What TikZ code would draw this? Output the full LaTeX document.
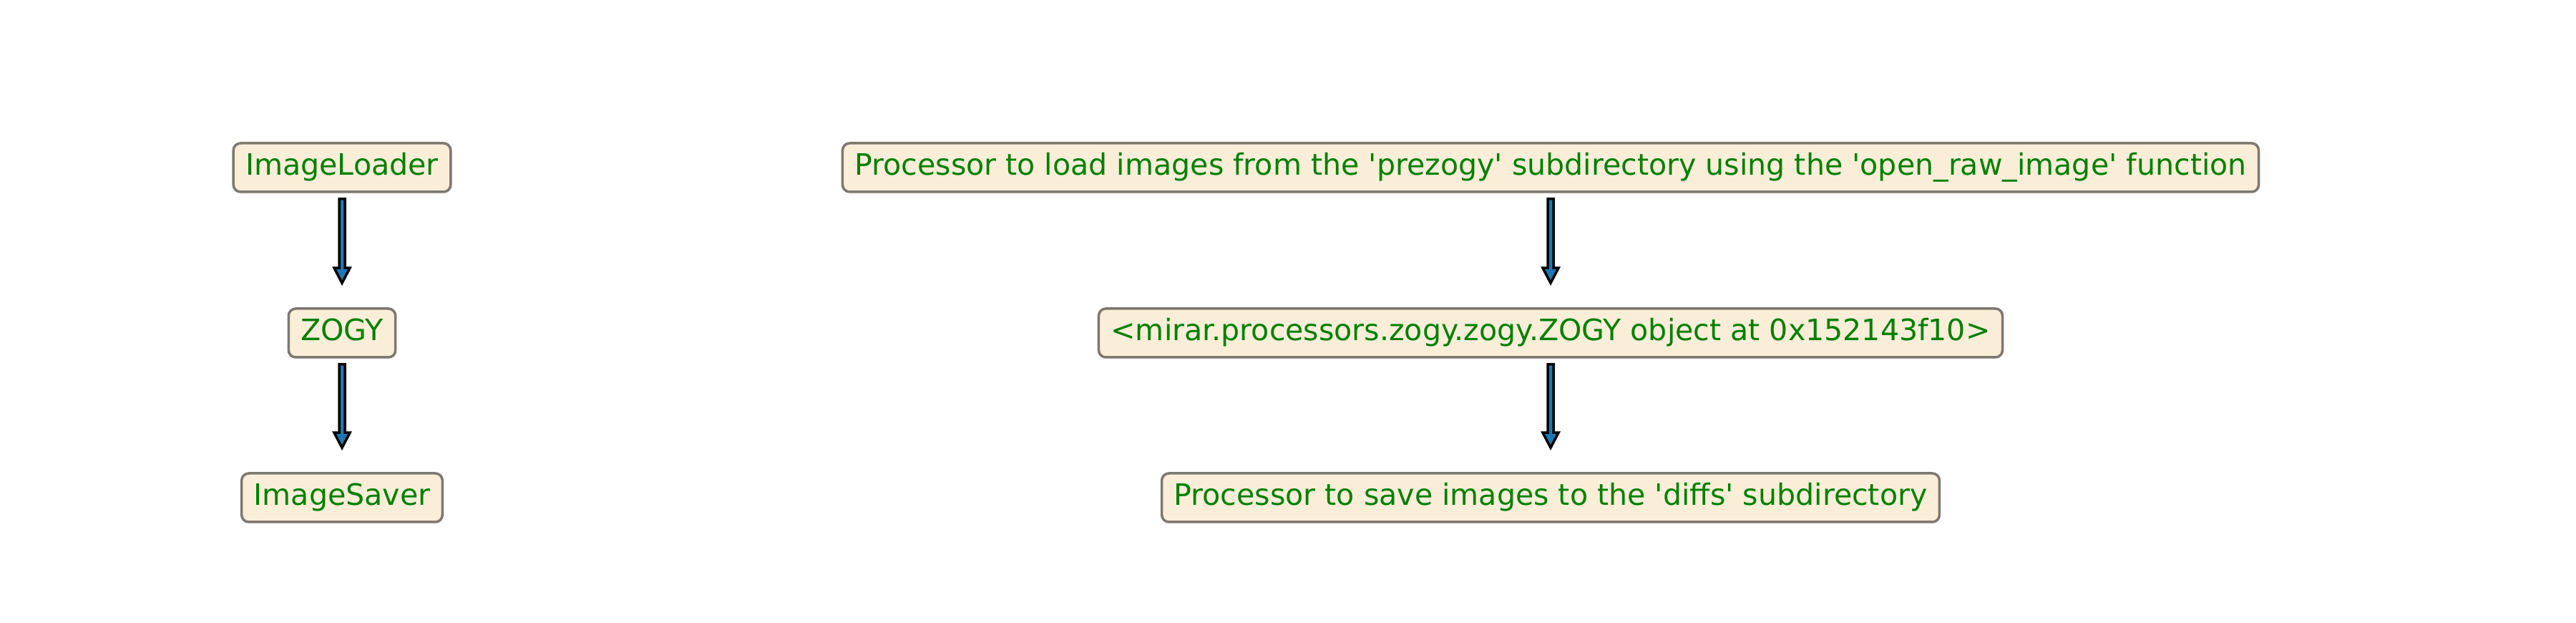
\documentclass[tikz,border=0pt]{standalone}
\usepackage{fontspec}
\newfontfamily\boxfont{DejaVu Sans}
\definecolor{boxfill}{RGB}{250,238,217}
\definecolor{boxedge}{RGB}{125,120,112}
\definecolor{boxtext}{RGB}{0,128,0}
\definecolor{arrowblue}{RGB}{31,119,180}

\begin{document}
\begin{tikzpicture}[
  proc/.style={draw=boxedge, line width=0.035cm, fill=boxfill, rounded corners=0.1cm,
    text=boxtext, font=\boxfont\fontsize{11.7pt}{14pt}\selectfont,
    inner xsep=0.17cm, minimum height=0.68cm, text height=0.31cm, text depth=0.09cm},
  flow/.style={draw=black, fill=arrowblue, line width=0.035cm, miter limit=10,
    to path={([shift={(-0.04,-0.08)}]\tikztostart) -- ([shift={(0.04,-0.08)}]\tikztostart)
      -- ([shift={(0.04,0.55)}]\tikztotarget) -- ([shift={(0.11,0.55)}]\tikztotarget)
      -- ([shift={(0,0.34)}]\tikztotarget) -- ([shift={(-0.11,0.55)}]\tikztotarget)
      -- ([shift={(-0.04,0.55)}]\tikztotarget) -- cycle}}
]
\useasboundingbox (0,0) rectangle (36,-8.7);

\node[proc] (load) at (4.78,-2.34) {ImageLoader};
\node[proc] (zogy) at (4.78,-4.65) {ZOGY};
\node[proc] (save) at (4.78,-6.95) {ImageSaver};
\path[flow] (load.south) to (zogy.north);
\path[flow] (zogy.south) to (save.north);

\node[proc] (loaddesc) at (21.67,-2.34) {Processor to load images from the 'prezogy' subdirectory using the 'open\_raw\_image' function};
\node[proc] (zogydesc) at (21.67,-4.65) {<mirar.processors.zogy.zogy.ZOGY object at 0x152143f10>};
\node[proc] (savedesc) at (21.67,-6.95) {Processor to save images to the 'diffs' subdirectory};
\path[flow] (loaddesc.south) to (zogydesc.north);
\path[flow] (zogydesc.south) to (savedesc.north);
\end{tikzpicture}
\end{document}
